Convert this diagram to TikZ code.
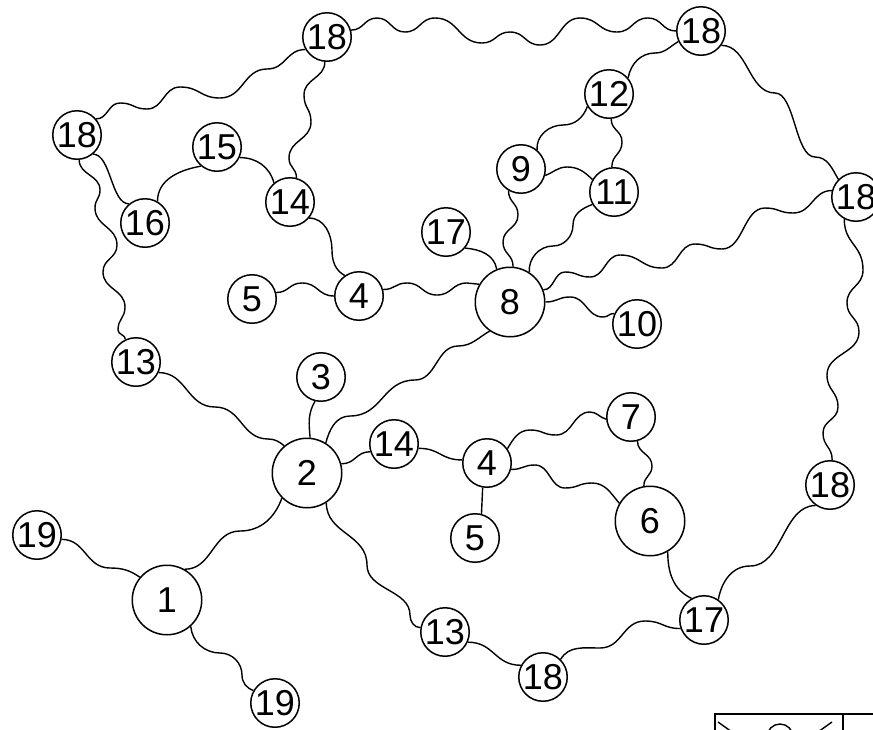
\documentclass[tikz,border=0pt]{standalone}
\usepackage{fontspec}
\setmainfont{Liberation Sans}
\usetikzlibrary{calc}
\begin{document}
\begin{tikzpicture}[x=1pt,y=1pt,
  nd/.style={circle,draw,line width=1.5pt,minimum size=48.5pt,inner sep=0pt,fill=white,font=\fontsize{36}{36}\selectfont},
  big/.style={nd,minimum size=69.5pt},
  ed/.style={line width=1.4pt},
  H/.style={to path={let \p1=(\tikztostart), \p2=(\tikztotarget) in .. controls ({(\x1+\x2)/2},\y1) and ({(\x1+\x2)/2},\y2) .. (\tikztotarget)}},
  V/.style={to path={let \p1=(\tikztostart), \p2=(\tikztotarget) in .. controls (\x1,{(\y1+\y2)/2}) and (\x2,{(\y1+\y2)/2}) .. (\tikztotarget)}}]
\useasboundingbox (0,0) rectangle (873,-729);
% nodes
\node[nd] (n18a) at (327,-37) {18};
\node[nd] (n18b) at (701,-31) {18};
\node[nd] (n12) at (609,-94) {12};
\node[nd] (n18c) at (77,-135) {18};
\node[nd] (n15) at (217,-147) {15};
\node[nd] (n9) at (521,-169) {9};
\node[nd] (n11) at (614,-192) {11};
\node[nd] (n18d) at (856,-197) {18};
\node[nd] (n16) at (145,-223) {16};
\node[nd] (n14a) at (290,-202) {14};
\node[nd] (n17a) at (446,-232) {17};
\node[nd] (n5a) at (252,-299) {5};
\node[nd] (n4a) at (359,-296) {4};
\node[big] (n8) at (510,-302) {8};
\node[nd] (n10) at (637,-324) {10};
\node[nd] (n13a) at (136,-362) {13};
\node[nd] (n3) at (321,-377) {3};
\node[big] (n2) at (307,-473) {2};
\node[nd] (n14b) at (394,-444) {14};
\node[nd] (n4b) at (487,-463) {4};
\node[nd] (n7) at (631,-417) {7};
\node[big] (n6) at (650,-521) {6};
\node[nd] (n5b) at (475,-538) {5};
\node[nd] (n18e) at (830,-485) {18};
\node[nd] (n19a) at (37,-535) {19};
\node[big] (n1) at (167,-600) {1};
\node[nd] (n17b) at (704,-620) {17};
\node[nd] (n13b) at (445,-632) {13};
\node[nd] (n18f) at (543,-677) {18};
\node[nd] (n19b) at (275,-703) {19};
% edges
\draw[ed] (n18a.16) to[H] (377,-18) to[H] (405,-32) to[H] (435,-18) to[H] (482,-43) to[H] (510,-32) to[H] (540,-45) to[H] (580,-18) to[H] (617,-32) to[H] (648,-18) to[H] (n18b.180);
\draw[ed] (n18c.40) to[H] (120,-103) to[H] (147,-109) to[H] (180,-87) to[H] (220,-98) to[H] (267,-69) to[H] (n18a.210);
\draw[ed] (n18a.265) to[V] (304,-95) to[V] (311,-122) to[V] (289,-158) to[V] (n14a.75);
\draw[ed] (n18c.-50) to[H] (n16.130);
\draw[ed] (n18c.-85) to[V] (100,-190) to[V] (95,-208) to[V] (117,-245) to[V] (103,-272) to[V] (125,-307) to[V] (118,-330) to[V] (n13a.115);
\draw[ed] (n15.230) to[out=190,in=90] (n16.60);
\draw[ed] (n15.-25) to[out=0,in=105] (n14a.130);
\draw[ed] (n14a.-40) to[out=0,in=90] (332,-250) to[out=-90,in=150] (n4a.125);
\draw[ed] (n5a.15) to[H] (302,-283) to[H] (n4a.180);
\draw[ed] (n4a.15) to[H] (407,-283) to[H] (437,-295) to[H] (467,-283) to[H] (n8.150);
\draw[ed] (n17a.-40) to[out=-5,in=100] (n8.112);
\draw[ed] (n9.-120) to[V] (518,-215) to[V] (503,-242) to[V] (n8.85);
\draw[ed] (n11.-150) to[out=200,in=90] (573,-225) to[out=-90,in=0] (553,-246) to[out=180,in=95] (n8.57);
\draw[ed] (n8.20) to[H] (565,-272) to[H] (590,-277) to[H] (620,-255) to[H] (662,-268) to[H] (695,-244) to[H] (722,-249) to[H] (765,-208) to[H] (793,-213) to[H] (n18d.165);
\draw[ed] (n8.0) to[H] (570,-297) to[H] (603,-317) to[H] (n10.155);
\draw[ed] (n9.50) to[out=95,in=180] (563,-125) to[out=0,in=-110] (n12.-150);
\draw[ed] (n9.-15) to[out=20,in=180] (567,-167) to[out=0,in=135] (n11.150);
\draw[ed] (n12.-85) to[V] (622,-142) to[V] (n11.95);
\draw[ed] (n12.40) to[out=80,in=180] (655,-53) to[out=0,in=-150] (n18b.-155);
\draw[ed] (n18b.-35) to[H] (775,-93) to[H] (815,-157) to[out=0,in=120] (n18d.135);
\draw[ed] (n18d.-118) to[V] (863,-270) to[V] (847,-303) to[V] (859,-332) to[V] (827,-375) to[V] (838,-407) to[V] (823,-433) to[V] (n18e.85);
\draw[ed] (n8.-125) to[out=-150,in=0] (458,-346) to[H] (415,-380) to[H] (350,-416) to[out=180,in=75] (n2.58);
\draw[ed] (n13a.-25) to[H] (215,-407) to[H] (268,-439) to[out=0,in=140] (n2.130);
\draw[ed] (n3.-104) to[out=-120,in=95] (n2.85);
\draw[ed] (n2.15) to[H] (n14b.198);
\draw[ed] (n14b.-10) to[H] (n4b.173);
\draw[ed] (n4b.35) to[out=60,in=180] (530,-430) to[H] (556,-435) to[H] (590,-412) to[out=0,in=165] (n7.185);
\draw[ed] (n4b.-15) to[H] (535,-465) to[H] (565,-488) to[H] (592,-483) to[out=0,in=130] (n6.150);
\draw[ed] (n4b.-100) to[V] (n5b.75);
\draw[ed] (n7.-75) to[V] (652,-466) to[V] (n6.100);
\draw[ed] (n6.-60) to[out=-90,in=155] (n17b.120);
\draw[ed] (n18e.-125) to[H] (750,-566) to[out=180,in=80] (n17b.55);
\draw[ed] (n17b.200) to[H] (645,-621) to[H] (600,-648) to[out=180,in=60] (n18f.45);
\draw[ed] (n18f.152) to[H] (n13b.-24);
\draw[ed] (n2.-57) to[V] (367,-565) to[V] (410,-615) to[out=-90,in=180] (n13b.170);
\draw[ed] (n2.-135) to[out=-110,in=0] (240,-531) to[H] (n1.60);
\draw[ed] (n19a.-10) to[H] (110,-568) to[out=0,in=145] (n1.140);
\draw[ed] (n1.-48) to[out=-85,in=180] (220,-653) to[out=0,in=90] (242,-675) to[out=-90,in=160] (n19b.150);
% cut-off legend box
\begin{scope}
\clip (0,0) rectangle (873,-729);
\draw[line width=1.5pt] (715,-740) -- (715,-714) -- (890,-714);
\draw[line width=1.5pt] (843,-714) -- (843,-740);
\draw[ed] (718,-722) -- (732,-732);
\draw[ed] (832,-722) -- (818,-732);
\draw[ed] (780,-737) circle (13);
\end{scope}
\end{tikzpicture}
\end{document}
